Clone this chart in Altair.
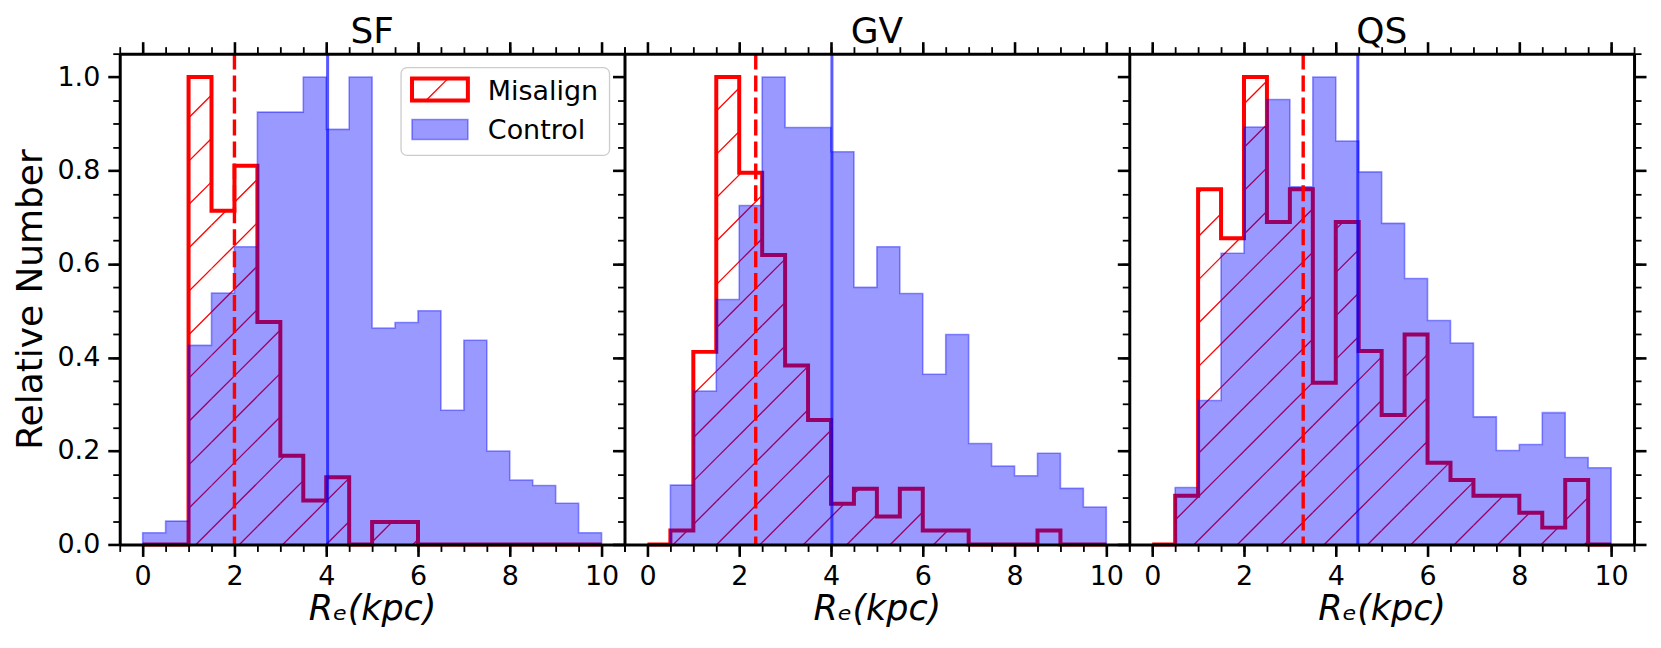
import math
import altair as alt
import numpy as np
import pandas as pd

FONT = "DejaVu Sans"

# ---------------- data ----------------
edges = [i * 0.5 for i in range(21)]          # bin edges, kpc
panel_names = ["SF", "GV", "QS"]
series_names = ["Misalign", "Control"]

sf_control = [0.025, 0.05, 0.426, 0.538, 0.637, 0.925, 0.925, 1.0, 0.888, 1.0,
              0.463, 0.475, 0.50, 0.287, 0.437, 0.20, 0.138, 0.126, 0.088, 0.025]
sf_misalign = [0.0, 0.0, 1.0, 0.714, 0.81, 0.476, 0.19, 0.094, 0.144, 0.0,
               0.048, 0.048, 0.0, 0.0, 0.0, 0.0, 0.0, 0.0, 0.0, 0.0]

gv_control = [0.0, 0.127, 0.328, 0.524, 0.725, 1.0, 0.892, 0.892, 0.84, 0.55,
              0.637, 0.537, 0.364, 0.449, 0.216, 0.168, 0.147, 0.195, 0.12, 0.08]
gv_misalign = [0.0, 0.03, 0.412, 1.0, 0.795, 0.619, 0.383, 0.266, 0.087, 0.119,
               0.06, 0.119, 0.03, 0.03, 0.0, 0.0, 0.0, 0.03, 0.0, 0.0]

qs_control = [0.0, 0.122, 0.308, 0.623, 0.893, 0.952, 0.765, 1.0, 0.863, 0.797,
              0.687, 0.569, 0.479, 0.431, 0.273, 0.201, 0.214, 0.282, 0.186, 0.164]
qs_misalign = [0.0, 0.104, 0.76, 0.655, 1.0, 0.69, 0.76, 0.346, 0.69, 0.414,
               0.277, 0.449, 0.175, 0.138, 0.104, 0.104, 0.068, 0.036, 0.138, 0.0]

median_misalign = [2.0, 2.36, 3.29]
median_control = [4.03, 4.02, 4.48]

x_major = [0, 2, 4, 6, 8, 10]
x_minor = [i * 0.5 for i in range(-1, 22)]
y_major = [0.0, 0.2, 0.4, 0.6, 0.8, 1.0]
y_minor = [round(i * 0.05, 2) for i in range(22)]

controls = [sf_control, gv_control, qs_control]
misaligns = [sf_misalign, gv_misalign, qs_misalign]

# ---------------- layout / style ----------------
W, H = 506, 492
XMIN, XMAX = -0.5, 10.5
YMAX = 1.05
sx = W / (XMAX - XMIN)
sy = H / YMAX
HATCH_SP = 43.5
HATCH_PHASE = 3.0

xs = alt.Scale(domain=[XMIN, XMAX], nice=False, zero=False)
ys = alt.Scale(domain=[0, YMAX], nice=False, zero=False)


def outline_df(vals):
    pts = [(edges[0], 0.0)]
    for i, h in enumerate(vals):
        pts.append((edges[i], h))
        pts.append((edges[i + 1], h))
    pts.append((edges[-1], 0.0))
    return pd.DataFrame({"x": [p[0] for p in pts], "y": [p[1] for p in pts],
                         "o": list(range(len(pts)))})


def area_df(vals):
    return pd.DataFrame({"x": edges[:-1] + [edges[-1]],
                         "y": list(vals) + [vals[-1]],
                         "y0": [0.0] * (len(vals) + 1)})


def hatch_df(vals, phase):
    """45-degree hatch lines (pixel space) clipped to each bin of the histogram."""
    rows = []
    ybot = H
    for i, h in enumerate(vals):
        if h <= 0:
            continue
        X0 = (edges[i] - XMIN) * sx
        X1 = (edges[i + 1] - XMIN) * sx
        Yt = (YMAX - h) * sy
        cmin, cmax = X0 + Yt, X1 + ybot
        k0 = math.ceil((cmin - phase) / HATCH_SP)
        k1 = math.floor((cmax - phase) / HATCH_SP)
        for k in range(k0, k1 + 1):
            c = phase + k * HATCH_SP
            xa = max(X0, c - ybot)
            xb = min(X1, c - Yt)
            if xb - xa > 0.3:
                rows.append({"x": xa / sx + XMIN, "y": YMAX - (c - xa) / sy,
                             "x2": xb / sx + XMIN, "y2": YMAX - (c - xb) / sy})
    return pd.DataFrame(rows, columns=["x", "y", "x2", "y2"])


dummy = pd.DataFrame({"x": [0.0], "y": [0.0]})

AX = dict(domainColor="black", tickColor="black", domainWidth=3, zindex=1, grid=False)


def major_x(orient, labels):
    kw = dict(AX, orient=orient, values=x_major, tickSize=12, tickWidth=2.6)
    if labels:
        kw.update(labels=True, labelFontSize=27, labelFont=FONT, labelColor="black",
                  labelPadding=7, labelFlush=False, labelOverlap=False,
                  title="Rₑ(kpc)", titleFontSize=35, titleFont=FONT,
                  titleFontStyle="italic", titleFontWeight="normal",
                  titleColor="black", titlePadding=2)
    else:
        kw.update(labels=False, title=None)
    return alt.Axis(**kw)


def minor_x(orient):
    return alt.Axis(orient=orient, values=x_minor, tickSize=7, tickWidth=1.8,
                    tickColor="black", labels=False, domain=False, title=None,
                    grid=False, zindex=1)


def major_y(orient, labels):
    kw = dict(AX, orient=orient, values=y_major, tickSize=12, tickWidth=2.6)
    if labels:
        kw.update(labels=True, format=".1f", labelFontSize=27, labelFont=FONT,
                  labelColor="black", labelPadding=8, labelFlush=False,
                  labelOverlap=False,
                  title="Relative Number", titleFontSize=36, titleFont=FONT,
                  titleFontWeight="normal", titleColor="black", titlePadding=7)
    else:
        kw.update(labels=False, title=None)
    return alt.Axis(**kw)


def minor_y(orient):
    return alt.Axis(orient=orient, values=y_minor, tickSize=7, tickWidth=1.8,
                    tickColor="black", labels=False, domain=False, title=None,
                    grid=False, zindex=1)


def axis_layer(xaxis, yaxis):
    return alt.Chart(dummy).mark_point(opacity=0).encode(
        x=alt.X("x:Q", scale=xs, axis=xaxis),
        y=alt.Y("y:Q", scale=ys, axis=yaxis),
    )


def panel(idx):
    ctrl = controls[idx]
    mis = misaligns[idx]
    phase = (HATCH_PHASE - idx * W) % HATCH_SP

    hatch = alt.Chart(hatch_df(mis, phase)).mark_rule(color="#ff0000", strokeWidth=1.3).encode(
        x=alt.X("x:Q", scale=xs, axis=None), y=alt.Y("y:Q", scale=ys, axis=None),
        x2="x2:Q", y2="y2:Q")

    red_line = alt.Chart(outline_df(mis)).mark_line(
        color="#ff0000", strokeWidth=4, strokeJoin="miter", strokeCap="butt").encode(
        x=alt.X("x:Q", scale=xs, axis=None), y=alt.Y("y:Q", scale=ys, axis=None),
        order="o:Q")

    blue_area = alt.Chart(area_df(ctrl)).mark_area(
        interpolate="step-after", color="#0000ff", opacity=0.4).encode(
        x=alt.X("x:Q", scale=xs, axis=None), y=alt.Y("y:Q", scale=ys, axis=None),
        y2="y0:Q")

    blue_edge = alt.Chart(outline_df(ctrl)).mark_line(
        color="#0000ff", opacity=0.4, strokeWidth=1.6, strokeJoin="miter").encode(
        x=alt.X("x:Q", scale=xs, axis=None), y=alt.Y("y:Q", scale=ys, axis=None),
        order="o:Q")

    med_r = alt.Chart(pd.DataFrame({"m": [median_misalign[idx]]})).mark_rule(
        color="#ff0000", strokeWidth=3.4, strokeDash=[16, 6]).encode(
        x=alt.X("m:Q", scale=xs, axis=None))

    med_b = alt.Chart(pd.DataFrame({"m": [median_control[idx]]})).mark_rule(
        color="#0000ff", opacity=0.65, strokeWidth=3).encode(
        x=alt.X("m:Q", scale=xs, axis=None))

    one = pd.DataFrame({"a": [0]})
    title = alt.Chart(one).mark_text(
        text=panel_names[idx], align="center", baseline="alphabetic", fontSize=36,
        font=FONT, color="black").encode(x=alt.value(W / 2), y=alt.value(-11))

    layers = [hatch, red_line, blue_area, blue_edge, med_r, med_b, title]

    if idx == 0:
        frame = alt.Chart(one).mark_rect(
            fill="white", fillOpacity=0.8, stroke="#cccccc", strokeWidth=1.3,
            cornerRadius=6).encode(
            x=alt.value(282), x2=alt.value(491), y=alt.value(14), y2=alt.value(102))
        sw1 = alt.Chart(one).mark_rect(
            fill="white", fillOpacity=0, stroke="#ff0000", strokeWidth=4).encode(
            x=alt.value(293), x2=alt.value(349), y=alt.value(25), y2=alt.value(47))
        sw1h = alt.Chart(one).mark_rule(color="#ff0000", strokeWidth=1.3).encode(
            x=alt.value(308), y=alt.value(46), x2=alt.value(329), y2=alt.value(25))
        sw2 = alt.Chart(one).mark_rect(
            fill="#0000ff", fillOpacity=0.4, stroke="#0000ff", strokeOpacity=0.4,
            strokeWidth=1.6).encode(
            x=alt.value(293), x2=alt.value(349), y=alt.value(66), y2=alt.value(86))
        t1 = alt.Chart(one).mark_text(
            text=series_names[0], align="left", baseline="alphabetic", fontSize=27,
            font=FONT, color="black").encode(x=alt.value(369), y=alt.value(46))
        t2 = alt.Chart(one).mark_text(
            text=series_names[1], align="left", baseline="alphabetic", fontSize=27,
            font=FONT, color="black").encode(x=alt.value(369), y=alt.value(86))
        layers += [frame, sw1, sw1h, sw2, t1, t2]

    layers += [
        axis_layer(major_x("bottom", True), major_y("left", idx == 0)),
        axis_layer(minor_x("bottom"), minor_y("left")),
        axis_layer(major_x("top", False), major_y("right", False) if idx == 2 else None),
        axis_layer(minor_x("top"), minor_y("right") if idx == 2 else None),
    ]

    return alt.layer(*layers).resolve_axis(x="independent", y="independent").properties(
        width=W, height=H,
    )


chart = alt.hconcat(panel(0), panel(1), panel(2), spacing=0, bounds="flush").properties(
    padding={"left": 4, "top": 4, "right": 5, "bottom": 5},
    background="white",
).configure_view(strokeWidth=0).configure(font=FONT)

chart.save("out.html", embed_options={"renderer": "svg", "actions": False})
